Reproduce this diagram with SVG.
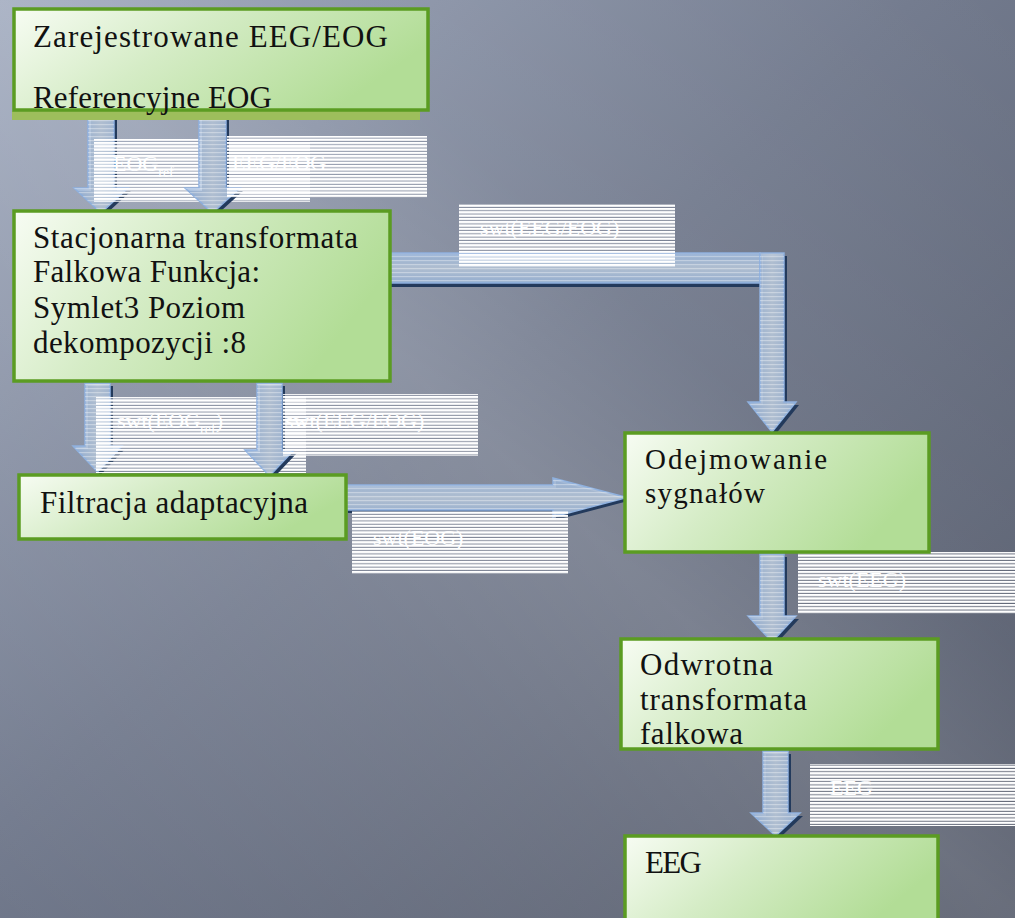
<svg xmlns="http://www.w3.org/2000/svg" width="1015" height="918" viewBox="0 0 1015 918">
<defs>
<linearGradient id="bg" x1="0" y1="0" x2="1" y2="1">
<stop offset="0" stop-color="#9da7bc"/>
<stop offset="0.45" stop-color="#737b8e"/>
<stop offset="1" stop-color="#4c5262"/>
</linearGradient>
<linearGradient id="streak" x1="0" y1="1" x2="1" y2="0">
<stop offset="0" stop-color="#ffffff" stop-opacity="0"/>
<stop offset="0.35" stop-color="#ffffff" stop-opacity="0.10"/>
<stop offset="0.5" stop-color="#ffffff" stop-opacity="0.16"/>
<stop offset="0.65" stop-color="#ffffff" stop-opacity="0.06"/>
<stop offset="1" stop-color="#ffffff" stop-opacity="0"/>
</linearGradient>
<linearGradient id="boxfill" x1="0" y1="0" x2="1" y2="0.35">
<stop offset="0" stop-color="#f7fcf3"/>
<stop offset="0.45" stop-color="#d5ecc6"/>
<stop offset="1" stop-color="#b2dd96"/>
</linearGradient>
<linearGradient id="varrow" x1="0" y1="0" x2="1" y2="0">
<stop offset="0" stop-color="#9fbbe0"/>
<stop offset="0.5" stop-color="#c3d0e0"/>
<stop offset="1" stop-color="#a3bddf"/>
</linearGradient>
<linearGradient id="harrow" x1="0" y1="0" x2="0" y2="1">
<stop offset="0" stop-color="#9fbbe0"/>
<stop offset="0.5" stop-color="#c3d0e0"/>
<stop offset="1" stop-color="#a3bddf"/>
</linearGradient>
<pattern id="stripes" patternUnits="userSpaceOnUse" width="20" height="3.3">
<rect x="0" y="0" width="20" height="2.3" fill="#ffffff"/>
</pattern>
<pattern id="astripes" patternUnits="userSpaceOnUse" width="20" height="4">
<rect x="0" y="0" width="20" height="1.2" fill="#ffffff"/>
</pattern>
</defs>
<style>
.box{fill:url(#boxfill);stroke:#5b9c22;stroke-width:3.5}
.t{font-family:"Liberation Serif","Times New Roman",serif;font-size:31px;fill:#111111}
.t4{font-size:29px}
.lab{fill:url(#stripes)}
.lt{font-family:"Liberation Serif","Times New Roman",serif;font-size:22px;fill:#ffffff}
.sub{font-size:14px}
.sh{fill:#233a5c}
.av{fill:url(#varrow);fill-opacity:0.88;stroke:#8eb0de;stroke-width:1.5}
.ah{fill:url(#harrow);fill-opacity:0.88;stroke:#8eb0de;stroke-width:1.5}
.as{fill:url(#astripes);fill-opacity:0.35}
</style>
<rect x="0" y="0" width="1015" height="918" fill="url(#bg)"/>
<rect x="0" y="0" width="1015" height="918" fill="url(#streak)"/>

<g id="connectors">
<g id="a1">
<path class="sh" d="M91,115 H117 V191 H131 L104,216 L77,191 H91 Z"/>
<path class="av" d="M88,112 H114 V188 H128 L101,213 L74,188 H88 Z"/>
<path class="as" d="M88,112 H114 V188 H128 L101,213 L74,188 H88 Z"/>
</g>
<g id="l1">
<rect class="lab" x="94" y="139" width="216" height="63"/>
<text class="lt" x="113" y="171">EOG<tspan class="sub" dy="6">ref</tspan></text>
</g>
<g id="a2">
<path class="sh" d="M202,115 H229 V191 H243 L215.5,216 L188,191 H202 Z"/>
<path class="av" d="M199,112 H226 V188 H240 L212.5,213 L185,188 H199 Z"/>
<path class="as" d="M199,112 H226 V188 H240 L212.5,213 L185,188 H199 Z"/>
</g>
<g id="l2">
<rect class="lab" x="227" y="136" width="200" height="62"/>
<text class="lt" x="232" y="170">EEG/EOG</text>
</g>
<g id="a3">
<rect class="sh" x="390" y="256" width="372" height="31"/>
<rect class="ah" x="388" y="253" width="372" height="30"/>
<rect class="as" x="388" y="253" width="372" height="30"/>
<path class="sh" d="M763,256 H787 V405 H799 L775,435 L751,405 H763 Z"/>
<path class="av" d="M760,253 H784 V402 H796 L772,432 L748,402 H760 Z"/>
<path class="as" d="M760,253 H784 V402 H796 L772,432 L748,402 H760 Z"/>
</g>
<g id="l5">
<rect class="lab" x="459" y="204" width="216" height="63"/>
<text class="lt" x="480" y="235">swt(EEG/EOG)</text>
</g>
<g id="a4">
<path class="sh" d="M88,386 H113 V449 H125 L100.5,475 L76,449 H88 Z"/>
<path class="av" d="M85,383 H110 V446 H122 L97.5,472 L73,446 H85 Z"/>
<path class="as" d="M85,383 H110 V446 H122 L97.5,472 L73,446 H85 Z"/>
</g>
<g id="l3">
<rect class="lab" x="96" y="397" width="210" height="76"/>
<text class="lt" x="117" y="428">swt(EOG<tspan class="sub" dy="6">ref</tspan><tspan dy="-6">)</tspan></text>
</g>
<g id="a5">
<path class="sh" d="M260,386 H285 V453 H297 L272.5,479 L248,453 H260 Z"/>
<path class="av" d="M257,383 H282 V450 H294 L269.5,476 L245,450 H257 Z"/>
<path class="as" d="M257,383 H282 V450 H294 L269.5,476 L245,450 H257 Z"/>
</g>
<g id="l4">
<rect class="lab" x="283" y="394" width="195" height="62"/>
<text class="lt" x="285" y="428">swt(EEG/EOG)</text>
</g>
<g id="a6">
<path class="sh" d="M348,488 H556 V481 L630,500.5 L556,520 V513 H348 Z"/>
<path class="ah" d="M345,485 H553 V478 L627,497.5 L553,517 V510 H345 Z"/>
<path class="as" d="M345,485 H553 V478 L627,497.5 L553,517 V510 H345 Z"/>
</g>
<g id="l6">
<rect class="lab" x="352" y="511" width="216" height="63"/>
<text class="lt" x="373" y="545">swt(EOG)</text>
</g>
<g id="a7">
<path class="sh" d="M763,557 H787 V619 H799 L775,645 L751,619 H763 Z"/>
<path class="av" d="M760,554 H784 V616 H796 L772,642 L748,616 H760 Z"/>
<path class="as" d="M760,554 H784 V616 H796 L772,642 L748,616 H760 Z"/>
</g>
<g id="l7">
<rect class="lab" x="798" y="552" width="217" height="62"/>
<text class="lt" x="818" y="587">swt(EEG)</text>
</g>
<g id="a8">
<path class="sh" d="M766,754 H791 V816 H803 L778.5,839 L754,816 H766 Z"/>
<path class="av" d="M763,751 H788 V813 H800 L775.5,836 L751,813 H763 Z"/>
<path class="as" d="M763,751 H788 V813 H800 L775.5,836 L751,813 H763 Z"/>
</g>
<g id="l8">
<rect class="lab" x="810" y="764" width="205" height="62"/>
<text class="lt" x="830" y="795">EEG</text>
</g>
</g>

<g id="n1">
<rect x="12" y="111" width="408" height="9" fill="#9dbe5c"/>
<rect class="box" x="14" y="9" width="414" height="101"/>
<text class="t" x="33" y="47" textLength="355" lengthAdjust="spacing">Zarejestrowane  EEG/EOG</text>
<text class="t" x="33" y="108" textLength="239" lengthAdjust="spacing">Referencyjne EOG</text>
</g>
<g id="n2">
<rect class="box" x="14" y="211" width="376" height="170"/>
<text class="t" x="33" y="248" textLength="325" lengthAdjust="spacing">Stacjonarna transformata</text>
<text class="t" x="33" y="282" textLength="227" lengthAdjust="spacing">Falkowa Funkcja:</text>
<text class="t" x="33" y="318" textLength="212" lengthAdjust="spacing">Symlet3 Poziom</text>
<text class="t" x="33" y="353" textLength="213" lengthAdjust="spacing">dekompozycji :8</text>
</g>
<g id="n3">
<rect class="box" x="19" y="475" width="327" height="64"/>
<text class="t" x="40" y="513" textLength="268" lengthAdjust="spacing">Filtracja adaptacyjna</text>
</g>
<g id="n4">
<rect class="box" x="625" y="433" width="304" height="119"/>
<text class="t t4" x="645" y="469" textLength="182" lengthAdjust="spacing">Odejmowanie</text>
<text class="t t4" x="645" y="503" textLength="120" lengthAdjust="spacing">sygnałów</text>
</g>
<g id="n5">
<rect class="box" x="621" y="639" width="317" height="110"/>
<text class="t" x="640" y="675" textLength="133" lengthAdjust="spacing">Odwrotna</text>
<text class="t" x="640" y="710" textLength="167" lengthAdjust="spacing">transformata</text>
<text class="t" x="640" y="744" textLength="103" lengthAdjust="spacing">falkowa</text>
</g>
<g id="n6">
<rect class="box" x="625" y="836" width="313" height="90"/>
<text class="t" x="645" y="873" textLength="57" lengthAdjust="spacing">EEG</text>
</g>
</svg>
